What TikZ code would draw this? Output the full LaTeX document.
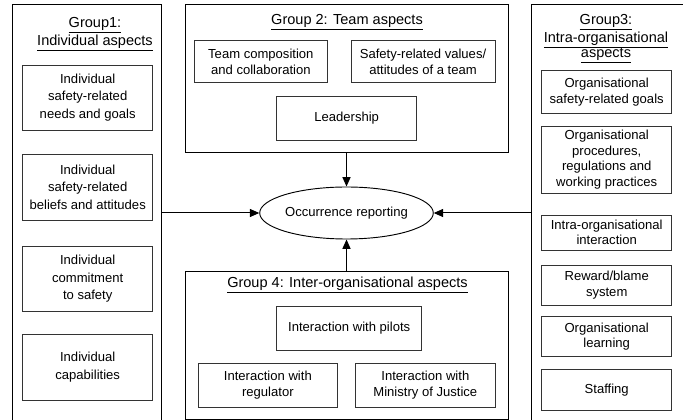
\documentclass[tikz,border=0pt]{standalone}
\usepackage{fontspec}
\setmainfont{Liberation Sans}
\usetikzlibrary{shapes.geometric,arrows.meta}
\newcommand\pbox[7][]{%
  \node[#1, minimum width={(#5-#3)*0.75pt}, minimum height={(#6-#4)*0.75pt}]
    (#2) at ({(#3+#5)/2},{(#4+#6)/2}) {#7};}
\begin{document}
\begin{tikzpicture}[x=0.75pt,y=-0.75pt,
  font=\fontsize{9.8}{12}\selectfont,
  grp/.style={draw=black, line width=0.75pt, inner sep=0pt},
  item/.style={draw=black!80, line width=0.7pt, inner sep=0pt, align=center},
  ttl/.style={align=center, inner sep=0pt, font=\fontsize{10.9}{13.5}\selectfont},
  arr/.style={line width=0.75pt, -{Triangle[length=7pt,width=6pt]}}]
\useasboundingbox (0,0) rectangle (683,420);
\clip (0,0) rectangle (683,420);

% Group 1
\pbox[grp]{g1}{12.7}{5}{161.7}{440}{}
\node[ttl] (t1) at (95,34) {\underline{Group1:}\\\underline{Individual aspects}};
\begin{scope}[every node/.append style={font=\fontsize{9.8}{13}\selectfont}]
\pbox[item]{i1}{22.7}{65}{152.7}{130}{Individual\\safety-related\\needs and goals}
\pbox[item]{i2}{22.7}{154}{152.7}{220}{Individual\\safety-related\\beliefs and attitudes}
\pbox[item]{i3}{22.7}{246}{152.7}{311.7}{Individual\\commitment\\to safety}
\pbox[item]{i4}{22.7}{334}{152.7}{400}{Individual\\capabilities}
\end{scope}

% Group 2
\pbox[grp]{g2}{185}{5}{508}{153}{}
\node[ttl] (t2) at (347,22) {\underline{Group 2: Team aspects}};
\pbox[item]{j1}{194}{40}{327.7}{82.7}{Team composition\\and collaboration}
\pbox[item]{j2}{351}{40}{495}{82.7}{Safety-related values/\\attitudes of a team}
\pbox[item]{j3}{276.7}{96.7}{416.7}{140}{Leadership}

% Central ellipse
\node[draw, ellipse, line width=0.7pt, minimum width=121.5pt, minimum height=39pt, inner sep=0pt] (ell) at (346.5,213) {Occurrence reporting};

% Group 4
\pbox[grp]{g4}{185}{271.7}{508}{419.6}{}
\node[ttl] (t4) at (347.5,285) {\underline{Group 4: Inter-organisational aspects}};
\pbox[item]{k1}{276.7}{306.7}{421.7}{350}{Interaction with pilots}
\pbox[item]{k2}{198}{363}{337.7}{407}{Interaction with\\regulator}
\pbox[item]{k3}{355.7}{363}{495}{407}{Interaction with\\Ministry of Justice}

% Group 3
\pbox[grp]{g3}{531.7}{5}{700}{440}{}
\node[ttl, font=\fontsize{10.9}{11.8}\selectfont] (t3) at (606,39) {\underline{Group3:}\\\underline{Intra-organisational}\\\underline{aspects}};
\begin{scope}[every node/.append style={font=\fontsize{9.8}{11.7}\selectfont}]
\pbox[item]{m1}{541.7}{70.7}{671.7}{113.3}{Organisational\\safety-related goals}
\pbox[item]{m2}{541.7}{126}{671.7}{193}{Organisational\\procedures,\\regulations and\\working practices}
\pbox[item]{m3}{541.7}{215}{671.7}{250}{Intra-organisational\\interaction}
\pbox[item]{m4}{541.7}{265}{671.7}{305}{Reward/blame\\system}
\pbox[item]{m5}{541.7}{316.7}{671.7}{356.7}{Organisational\\learning}
\pbox[item]{m6}{541.7}{369.3}{671.7}{410}{Staffing}
\end{scope}

% Arrows
\draw[arr] (g2.south) -- (ell.north);
\draw[arr] (g4.north) -- (ell.south);
\draw[arr] (g1.east |- ell.west) -- (ell.west);
\draw[arr] (g3.west |- ell.east) -- (ell.east);
\end{tikzpicture}
\end{document}
